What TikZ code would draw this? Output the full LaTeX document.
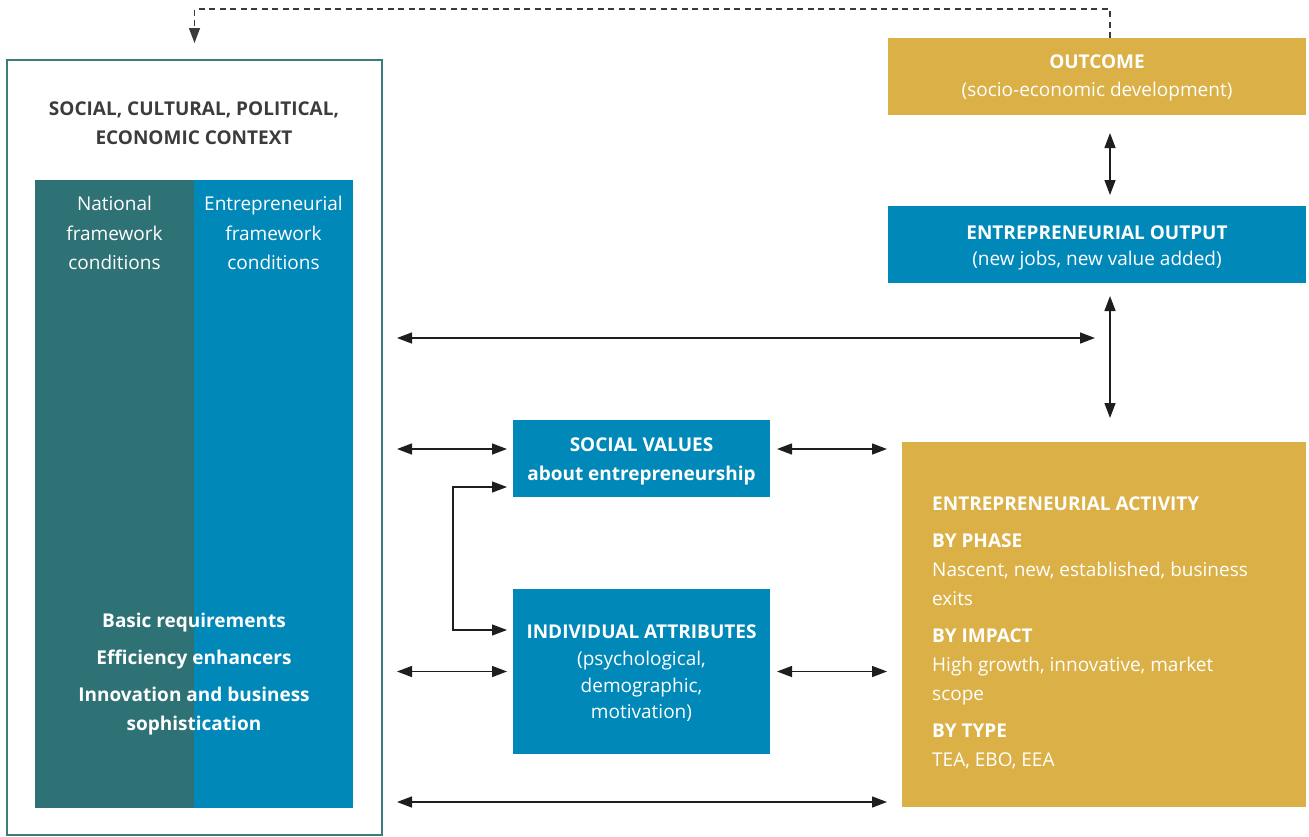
\documentclass[tikz,border=0pt]{standalone}
\usepackage{fontspec}
\setmainfont{Open Sans}
\usetikzlibrary{arrows.meta}
\definecolor{gold}{HTML}{DBB047}
\definecolor{gblue}{HTML}{0088B9}
\definecolor{gteal}{HTML}{2E7276}
\definecolor{gborder}{HTML}{3A7D7E}
\definecolor{gtext}{HTML}{3C3C3C}
\definecolor{garrow}{HTML}{1E1E1E}
\definecolor{gdash}{HTML}{3A3A3A}
\begin{document}
\begin{tikzpicture}[x=1pt,y=-1pt,
  txt/.style={font=\fontsize{19}{28}\selectfont, text=white, align=center, inner sep=0},
  box/.style={rectangle, inner sep=0, outer sep=0, text=white, align=center,
    font=\fontsize{19}{28}\selectfont},
  arr/.style={{Triangle[length=15pt,width=11pt]}-{Triangle[length=15pt,width=11pt]}, line width=1.4pt, draw=garrow},
  dasharr/.style={-{Triangle[length=15pt,width=11pt]}, line width=1.4pt, draw=gdash, dash pattern=on 6pt off 4.5pt}
]
\useasboundingbox (0,0) rectangle (1309,836);

% left context box
\node[draw=gborder, line width=2pt, minimum width=375, minimum height=775, inner sep=0, outer sep=0] (ctx) at (194.5,447.5) {};
\node[txt, text=gtext, font=\bfseries\fontsize{19}{29}\selectfont] (ctxt) at (194,123) {SOCIAL, CULTURAL, POLITICAL,\\ECONOMIC CONTEXT};
\node[box, fill=gteal, minimum width=159, minimum height=628] (nfc) at (114.5,494) {};
\node[box, fill=gblue, minimum width=159, minimum height=628] (efc) at (273.5,494) {};
\node[txt, font=\fontsize{19}{29.5}\selectfont] (nfct) at (114.5,233) {National\\framework\\conditions};
\node[txt, font=\fontsize{19}{29.5}\selectfont] (efct) at (273.5,233) {Entrepreneurial\\framework\\conditions};
\node[txt, font=\bfseries\fontsize{19}{29}\selectfont] (req) at (194,674.5) {Basic requirements\\[8pt]Efficiency enhancers\\[8pt]Innovation and business\\sophistication};

% right column
\node[box, fill=gold, minimum width=418, minimum height=77] (out) at (1097,76.5) {};
\node[txt] (outt) at (1097,77.5) {\textbf{OUTCOME}\\(socio-economic development)};
\node[box, fill=gblue, minimum width=418, minimum height=77] (outp) at (1097,244.5) {};
\node[txt, font=\fontsize{19}{26}\selectfont] (outpt) at (1097,247.5) {\textbf{ENTREPRENEURIAL OUTPUT}\\(new jobs, new value added)};
\node[box, fill=gold, minimum width=404, minimum height=365] (act) at (1104,624.5) {};
\node[txt, align=left, anchor=base west, font=\fontsize{19}{29}\selectfont] (actt) at (932,766) {\textbf{ENTREPRENEURIAL ACTIVITY}\\[8pt]\textbf{BY PHASE}\\Nascent, new, established, business\\exits\\[8pt]\textbf{BY IMPACT}\\High growth, innovative, market\\scope\\[8pt]\textbf{BY TYPE}\\TEA, EBO, EEA};

% middle
\node[box, fill=gblue, minimum width=257, minimum height=77] (sv) at (641.5,458.5) {};
\node[txt, font=\bfseries\fontsize{19}{29}\selectfont] (svt) at (641.5,461.5) {SOCIAL VALUES\\about entrepreneurship};
\node[box, fill=gblue, minimum width=257, minimum height=165] (ia) at (641.5,671.5) {};
\node[txt, font=\fontsize{19}{26.7}\selectfont] (iat) at (641.5,673.5) {\textbf{INDIVIDUAL ATTRIBUTES}\\(psychological,\\demographic,\\motivation)};

\coordinate (vx) at (1110,0);

% connectors
\draw[dasharr, shorten >=17pt] (vx |- out.north) -- (vx |- 0,9) -- (ctx.north |- 0,9) -- (ctx.north);
\draw[arr, shorten <=18pt, shorten >=11pt] (vx |- out.south) -- (vx |- outp.north);
\coordinate (vend) at (1110,418);
\draw[arr, shorten <=13pt] (vx |- outp.south) -- (vend);
\draw[arr, shorten <=15pt, shorten >=15pt] (ctx.east |- 0,338) -- (vx |- 0,338);

\draw[arr, shorten <=15pt, shorten >=6pt] (ctx.east |- 0,449) -- (sv.west |- 0,449);
\draw[arr, shorten <=7pt, shorten >=15pt] (sv.east |- 0,449) -- (act.west |- 0,449);
\draw[arr, shorten <=15pt, shorten >=6pt] (ctx.east |- ia.west) -- (ia.west);
\draw[arr, shorten <=7pt, shorten >=15pt] (ia.east) -- (act.west |- ia.east);
\draw[arr, shorten <=15pt, shorten >=15pt] (ctx.east |- 0,802) -- (act.west |- 0,802);
\draw[arr, line width=1.2pt, shorten <=6pt, shorten >=6pt] (sv.west |- 0,487) -- (453,487) -- (453,630) -- (ia.west |- 0,630);
\end{tikzpicture}
\end{document}
